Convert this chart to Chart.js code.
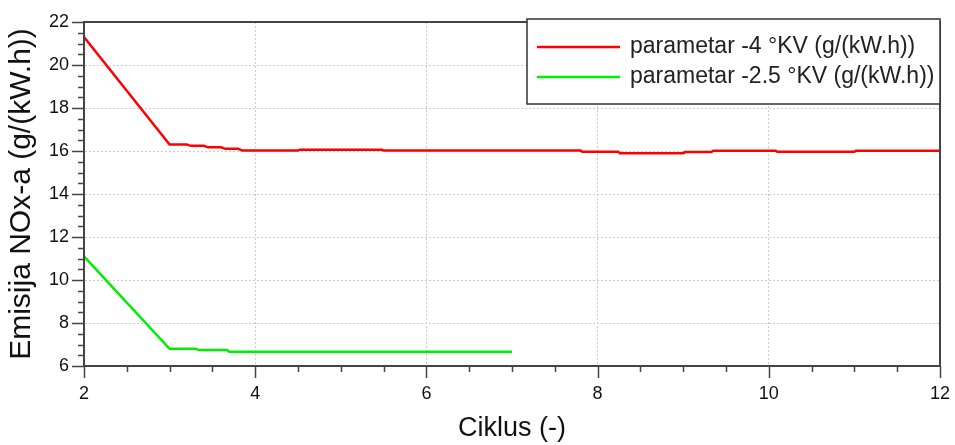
<!DOCTYPE html>
<html>
<head>
<meta charset="utf-8">
<script src="https://cdn.jsdelivr.net/npm/chart.js@4"></script>
<style>
  html, body { margin: 0; padding: 0; background: #fff; }
  #wrap { width: 955px; height: 445px; }
</style>
</head>
<body>
<div id="wrap"><canvas id="myChart" width="955" height="445"></canvas></div>
<script>
// values
const redLabel = "parametar -4 °KV (g/(kW.h))";
const greenLabel = "parametar -2.5 °KV (g/(kW.h))";

const redX = [2, 3, 3.2, 3.25, 3.4, 3.45, 3.6, 3.65, 3.8, 3.85, 4.5, 4.52, 5.48, 5.5, 7.8, 7.82, 8.24, 8.26, 9.0, 9.02, 9.33, 9.35, 10.08, 10.1, 11.0, 11.02, 12];
const redY = [21.3, 16.3, 16.3, 16.24, 16.24, 16.17, 16.17, 16.1, 16.1, 16.02, 16.02, 16.06, 16.06, 16.02, 16.02, 15.97, 15.97, 15.9, 15.9, 15.95, 15.95, 16.01, 16.01, 15.96, 15.96, 16.01, 16.01];

const greenX = [2, 3, 3.3, 3.35, 3.67, 3.7, 7];
const greenY = [11.1, 6.8, 6.8, 6.74, 6.74, 6.66, 6.66];

const xTicks = [2, 4, 6, 8, 10, 12];
const yTicks = [6, 8, 10, 12, 14, 16, 18, 20, 22];

const FONT = "'Liberation Sans', Arial, sans-serif";

const toPoints = (xs, ys) => xs.map((x, i) => ({ x: x, y: ys[i] }));
const isMajor = (v, list) => list.includes(Math.round(v * 100) / 100);

// frame round the plot, outward tick marks and the legend box
const boxPlugin = {
  id: "boxLegend",
  afterDraw(chart) {
    const { ctx, chartArea } = chart;
    const xs = chart.scales.x, ys = chart.scales.y;
    ctx.save();
    ctx.strokeStyle = "#444";
    ctx.lineWidth = 2;
    ctx.strokeRect(chartArea.left, chartArea.top, chartArea.right - chartArea.left, chartArea.bottom - chartArea.top);

    // tick marks
    ctx.lineWidth = 1.5;
    ctx.beginPath();
    xs.ticks.forEach((t) => {
      const px = Math.round(xs.getPixelForValue(t.value)) + 0.5;
      const len = isMajor(t.value, xTicks) ? 12 : 6;
      ctx.moveTo(px, chartArea.bottom);
      ctx.lineTo(px, chartArea.bottom + len);
    });
    ys.ticks.forEach((t) => {
      const py = Math.round(ys.getPixelForValue(t.value)) + 0.5;
      const len = isMajor(t.value, yTicks) ? 12 : 6;
      ctx.moveTo(chartArea.left, py);
      ctx.lineTo(chartArea.left - len, py);
    });
    ctx.stroke();

    // legend
    const bx = 527, by = 19, bw = chartArea.right - 527, bh = 85;
    ctx.fillStyle = "#fff";
    ctx.fillRect(bx, by, bw, bh);
    ctx.strokeStyle = "#333";
    ctx.lineWidth = 1.5;
    ctx.strokeRect(bx, by, bw, bh);
    ctx.font = "23px " + FONT;
    ctx.textBaseline = "middle";
    chart.data.datasets.forEach((ds, i) => {
      const yy = 47 + i * 30;
      ctx.strokeStyle = ds.borderColor;
      ctx.lineWidth = 2.5;
      ctx.beginPath();
      ctx.moveTo(537, yy);
      ctx.lineTo(620, yy);
      ctx.stroke();
      ctx.fillStyle = "#222";
      ctx.fillText(ds.label, 630, yy);
    });
    ctx.restore();
  },
};

const ctx = document.getElementById("myChart");
new Chart(ctx, {
  type: "line",
  data: {
    datasets: [
      {
        label: redLabel,
        data: toPoints(redX, redY),
        borderColor: "#ff0000",
        borderWidth: 2.5,
        pointRadius: 0,
        tension: 0,
      },
      {
        label: greenLabel,
        data: toPoints(greenX, greenY),
        borderColor: "#00ee00",
        borderWidth: 2.5,
        pointRadius: 0,
        tension: 0,
      },
    ],
  },
  options: {
    responsive: false,
    animation: false,
    layout: { padding: { top: 22, right: 15, left: 0, bottom: 0 } },
    plugins: {
      legend: { display: false },
      tooltip: { enabled: false },
    },
    scales: {
      x: {
        type: "linear",
        min: 2,
        max: 12,
        afterFit: (s) => {
          s.height = 79;
          s.paddingLeft = 0;
          s.paddingRight = 0;
        },
        ticks: {
          stepSize: 0.5,
          maxTicksLimit: 100,
          autoSkip: false,
          maxRotation: 0,
          padding: 17,
          color: "#111",
          font: { size: 18, family: FONT },
          callback: (v) => (isMajor(v, xTicks) ? v : ""),
        },
        grid: {
          color: (c) => (isMajor(c.tick.value, xTicks) && c.tick.value !== 2 && c.tick.value !== 12 ? "#cccccc" : "rgba(0,0,0,0)"),
          drawTicks: false,
          lineWidth: 1,
        },
        border: { color: "#444", width: 2, dash: [2, 2] },
        title: {
          display: true,
          text: "Ciklus (-)",
          color: "#111",
          padding: { top: 10, bottom: 0 },
          font: { size: 27, family: FONT },
        },
      },
      y: {
        type: "linear",
        min: 6,
        max: 22,
        afterFit: (s) => {
          s.width = 84;
          s.paddingTop = 0;
          s.paddingBottom = 0;
        },
        ticks: {
          stepSize: 0.5,
          maxTicksLimit: 100,
          autoSkip: false,
          padding: 15,
          color: "#111",
          font: { size: 18, family: FONT },
          callback: (v) => (isMajor(v, yTicks) ? v : ""),
        },
        grid: {
          color: (c) => (isMajor(c.tick.value, yTicks) && c.tick.value !== 6 && c.tick.value !== 22 ? "#cccccc" : "rgba(0,0,0,0)"),
          drawTicks: false,
          lineWidth: 1,
        },
        border: { color: "#444", width: 2, dash: [2, 2] },
        title: {
          display: true,
          text: "Emisija NOx-a (g/(kW.h))",
          color: "#111",
          padding: { bottom: 0 },
          font: { size: 30, family: FONT },
        },
      },
    },
  },
  plugins: [boxPlugin],
});
</script>
</body>
</html>
